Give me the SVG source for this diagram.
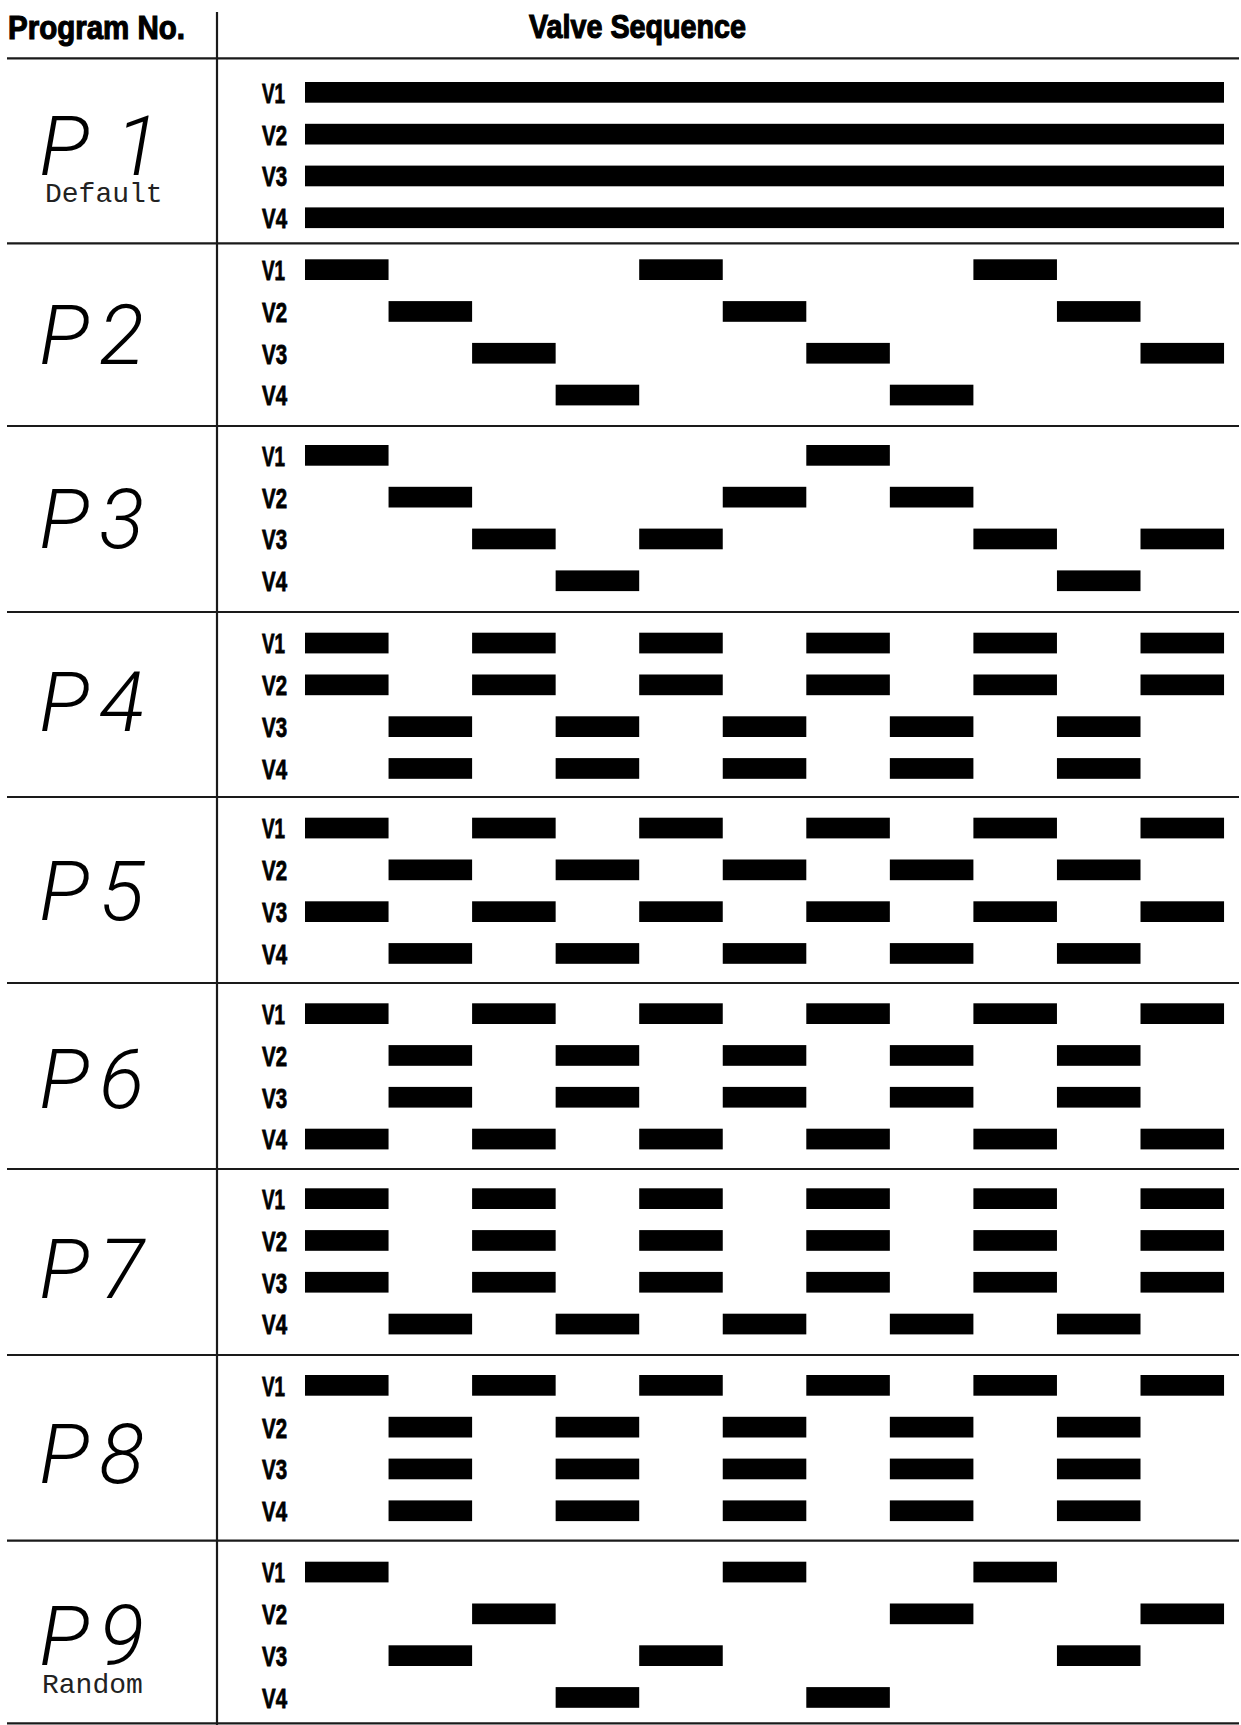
<svg xmlns="http://www.w3.org/2000/svg" width="1241" height="1725" viewBox="0 0 1241 1725">
<style>
.bg{fill:#fff}
.rule{stroke:#1a1a1a;stroke-width:2.2;fill:none}
.head{font-family:"Liberation Sans",Arial,sans-serif;font-weight:bold;font-size:34px;fill:#000;stroke:#000;stroke-width:1.2}
.lab{font-family:"Liberation Sans",Arial,sans-serif;font-weight:bold;font-size:27px;fill:#000;stroke:#000;stroke-width:0.8}
.seg{font-family:Roboto,"Liberation Sans",sans-serif;font-weight:300;font-style:italic;font-size:84px;fill:#000}
.sub{font-family:"Liberation Mono","Courier New",monospace;font-size:28px;fill:#222}
.bar{fill:#000}
</style>
<defs>
<g id="labels">
<text class="lab" x="262" y="20.7" textLength="23" lengthAdjust="spacingAndGlyphs">V1</text>
<text class="lab" x="262" y="62.5" textLength="25" lengthAdjust="spacingAndGlyphs">V2</text>
<text class="lab" x="262" y="104.3" textLength="25" lengthAdjust="spacingAndGlyphs">V3</text>
<text class="lab" x="262" y="146.1" textLength="25" lengthAdjust="spacingAndGlyphs">V4</text>
</g>
<rect id="b" class="bar" x="0" y="0" width="83.55" height="20.7"/>
</defs>
<rect class="bg" x="0" y="0" width="1241" height="1725"/>

<g id="header">
<text class="head" x="8" y="39" textLength="177" lengthAdjust="spacingAndGlyphs">Program No.</text>
<text class="head" x="529" y="37.5" textLength="217" lengthAdjust="spacingAndGlyphs">Valve Sequence</text>
</g>

<g id="grid">
<line class="rule" x1="217" y1="12" x2="217" y2="1725"/>
<line class="rule" x1="7" y1="58.3" x2="1239" y2="58.3"/>
<line class="rule" x1="7" y1="243.3" x2="1239" y2="243.3"/>
<line class="rule" x1="7" y1="426" x2="1239" y2="426"/>
<line class="rule" x1="7" y1="612" x2="1239" y2="612"/>
<line class="rule" x1="7" y1="797" x2="1239" y2="797"/>
<line class="rule" x1="7" y1="983" x2="1239" y2="983"/>
<line class="rule" x1="7" y1="1169" x2="1239" y2="1169"/>
<line class="rule" x1="7" y1="1355" x2="1239" y2="1355"/>
<line class="rule" x1="7" y1="1540.7" x2="1239" y2="1540.7"/>
<line class="rule" x1="7" y1="1723.3" x2="1239" y2="1723.3"/>
</g>

<g id="P1">
<text class="seg" x="39" y="175">P<tspan x="115">1</tspan></text>
<text class="sub" x="45" y="201.7">Default</text>
<g transform="translate(0,82)">
<use href="#labels"/>
<rect class="bar" x="305" y="0" width="919" height="20.7"/>
<rect class="bar" x="305" y="41.8" width="919" height="20.7"/>
<rect class="bar" x="305" y="83.6" width="919" height="20.7"/>
<rect class="bar" x="305" y="125.4" width="919" height="20.7"/>
</g>
</g>

<g id="P2">
<text class="seg" x="39" y="364">P<tspan x="99">2</tspan></text>
<g transform="translate(0,259.3)">
<use href="#labels"/>
<use href="#b" x="305"/><use href="#b" x="639.2"/><use href="#b" x="973.4"/>
<use href="#b" x="388.55" y="41.8"/><use href="#b" x="722.75" y="41.8"/><use href="#b" x="1056.95" y="41.8"/>
<use href="#b" x="472.1" y="83.6"/><use href="#b" x="806.3" y="83.6"/><use href="#b" x="1140.5" y="83.6"/>
<use href="#b" x="555.65" y="125.4"/><use href="#b" x="889.85" y="125.4"/>
</g>
</g>

<g id="P3">
<text class="seg" x="39" y="548.3">P<tspan x="99">3</tspan></text>
<g transform="translate(0,445)">
<use href="#labels"/>
<use href="#b" x="305"/><use href="#b" x="806.3"/>
<use href="#b" x="388.55" y="41.8"/><use href="#b" x="722.75" y="41.8"/><use href="#b" x="889.85" y="41.8"/>
<use href="#b" x="472.1" y="83.6"/><use href="#b" x="639.2" y="83.6"/><use href="#b" x="973.4" y="83.6"/><use href="#b" x="1140.5" y="83.6"/>
<use href="#b" x="555.65" y="125.4"/><use href="#b" x="1056.95" y="125.4"/>
</g>
</g>

<g id="P4">
<text class="seg" x="39" y="730.7">P<tspan x="99">4</tspan></text>
<g transform="translate(0,632.7)">
<use href="#labels"/>
<use href="#b" x="305"/><use href="#b" x="472.1"/><use href="#b" x="639.2"/><use href="#b" x="806.3"/><use href="#b" x="973.4"/><use href="#b" x="1140.5"/>
<use href="#b" x="305" y="41.8"/><use href="#b" x="472.1" y="41.8"/><use href="#b" x="639.2" y="41.8"/><use href="#b" x="806.3" y="41.8"/><use href="#b" x="973.4" y="41.8"/><use href="#b" x="1140.5" y="41.8"/>
<use href="#b" x="388.55" y="83.6"/><use href="#b" x="555.65" y="83.6"/><use href="#b" x="722.75" y="83.6"/><use href="#b" x="889.85" y="83.6"/><use href="#b" x="1056.95" y="83.6"/>
<use href="#b" x="388.55" y="125.4"/><use href="#b" x="555.65" y="125.4"/><use href="#b" x="722.75" y="125.4"/><use href="#b" x="889.85" y="125.4"/><use href="#b" x="1056.95" y="125.4"/>
</g>
</g>

<g id="P5">
<text class="seg" x="39" y="920">P<tspan x="99">5</tspan></text>
<g transform="translate(0,817.7)">
<use href="#labels"/>
<use href="#b" x="305"/><use href="#b" x="472.1"/><use href="#b" x="639.2"/><use href="#b" x="806.3"/><use href="#b" x="973.4"/><use href="#b" x="1140.5"/>
<use href="#b" x="388.55" y="41.8"/><use href="#b" x="555.65" y="41.8"/><use href="#b" x="722.75" y="41.8"/><use href="#b" x="889.85" y="41.8"/><use href="#b" x="1056.95" y="41.8"/>
<use href="#b" x="305" y="83.6"/><use href="#b" x="472.1" y="83.6"/><use href="#b" x="639.2" y="83.6"/><use href="#b" x="806.3" y="83.6"/><use href="#b" x="973.4" y="83.6"/><use href="#b" x="1140.5" y="83.6"/>
<use href="#b" x="388.55" y="125.4"/><use href="#b" x="555.65" y="125.4"/><use href="#b" x="722.75" y="125.4"/><use href="#b" x="889.85" y="125.4"/><use href="#b" x="1056.95" y="125.4"/>
</g>
</g>

<g id="P6">
<text class="seg" x="39" y="1108.3">P<tspan x="99">6</tspan></text>
<g transform="translate(0,1003.3)">
<use href="#labels"/>
<use href="#b" x="305"/><use href="#b" x="472.1"/><use href="#b" x="639.2"/><use href="#b" x="806.3"/><use href="#b" x="973.4"/><use href="#b" x="1140.5"/>
<use href="#b" x="388.55" y="41.8"/><use href="#b" x="555.65" y="41.8"/><use href="#b" x="722.75" y="41.8"/><use href="#b" x="889.85" y="41.8"/><use href="#b" x="1056.95" y="41.8"/>
<use href="#b" x="388.55" y="83.6"/><use href="#b" x="555.65" y="83.6"/><use href="#b" x="722.75" y="83.6"/><use href="#b" x="889.85" y="83.6"/><use href="#b" x="1056.95" y="83.6"/>
<use href="#b" x="305" y="125.4"/><use href="#b" x="472.1" y="125.4"/><use href="#b" x="639.2" y="125.4"/><use href="#b" x="806.3" y="125.4"/><use href="#b" x="973.4" y="125.4"/><use href="#b" x="1140.5" y="125.4"/>
</g>
</g>

<g id="P7">
<text class="seg" x="39" y="1298.3">P<tspan x="99">7</tspan></text>
<g transform="translate(0,1188.3)">
<use href="#labels"/>
<use href="#b" x="305"/><use href="#b" x="472.1"/><use href="#b" x="639.2"/><use href="#b" x="806.3"/><use href="#b" x="973.4"/><use href="#b" x="1140.5"/>
<use href="#b" x="305" y="41.8"/><use href="#b" x="472.1" y="41.8"/><use href="#b" x="639.2" y="41.8"/><use href="#b" x="806.3" y="41.8"/><use href="#b" x="973.4" y="41.8"/><use href="#b" x="1140.5" y="41.8"/>
<use href="#b" x="305" y="83.6"/><use href="#b" x="472.1" y="83.6"/><use href="#b" x="639.2" y="83.6"/><use href="#b" x="806.3" y="83.6"/><use href="#b" x="973.4" y="83.6"/><use href="#b" x="1140.5" y="83.6"/>
<use href="#b" x="388.55" y="125.4"/><use href="#b" x="555.65" y="125.4"/><use href="#b" x="722.75" y="125.4"/><use href="#b" x="889.85" y="125.4"/><use href="#b" x="1056.95" y="125.4"/>
</g>
</g>

<g id="P8">
<text class="seg" x="39" y="1483">P<tspan x="99">8</tspan></text>
<g transform="translate(0,1375)">
<use href="#labels"/>
<use href="#b" x="305"/><use href="#b" x="472.1"/><use href="#b" x="639.2"/><use href="#b" x="806.3"/><use href="#b" x="973.4"/><use href="#b" x="1140.5"/>
<use href="#b" x="388.55" y="41.8"/><use href="#b" x="555.65" y="41.8"/><use href="#b" x="722.75" y="41.8"/><use href="#b" x="889.85" y="41.8"/><use href="#b" x="1056.95" y="41.8"/>
<use href="#b" x="388.55" y="83.6"/><use href="#b" x="555.65" y="83.6"/><use href="#b" x="722.75" y="83.6"/><use href="#b" x="889.85" y="83.6"/><use href="#b" x="1056.95" y="83.6"/>
<use href="#b" x="388.55" y="125.4"/><use href="#b" x="555.65" y="125.4"/><use href="#b" x="722.75" y="125.4"/><use href="#b" x="889.85" y="125.4"/><use href="#b" x="1056.95" y="125.4"/>
</g>
</g>

<g id="P9">
<text class="seg" x="39" y="1665">P<tspan x="99">9</tspan></text>
<text class="sub" x="42" y="1693.3">Random</text>
<g transform="translate(0,1561.7)">
<use href="#labels"/>
<use href="#b" x="305"/><use href="#b" x="722.75"/><use href="#b" x="973.4"/>
<use href="#b" x="472.1" y="41.8"/><use href="#b" x="889.85" y="41.8"/><use href="#b" x="1140.5" y="41.8"/>
<use href="#b" x="388.55" y="83.6"/><use href="#b" x="639.2" y="83.6"/><use href="#b" x="1056.95" y="83.6"/>
<use href="#b" x="555.65" y="125.4"/><use href="#b" x="806.3" y="125.4"/>
</g>
</g>
</svg>
